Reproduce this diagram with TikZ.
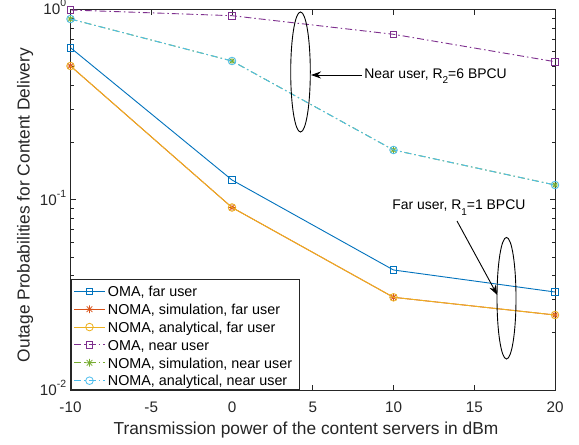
\documentclass[tikz,border=0pt]{standalone}
\usepackage{fontspec}
\setmainfont{Liberation Sans}
\usetikzlibrary{arrows.meta,shapes.geometric}
\definecolor{mblue}{rgb}{0,0.447,0.741}
\definecolor{morange}{rgb}{0.85,0.325,0.098}
\definecolor{myellow}{rgb}{0.929,0.694,0.125}
\definecolor{mpurple}{rgb}{0.494,0.184,0.556}
\definecolor{mgreen}{rgb}{0.466,0.674,0.188}
\definecolor{mcyan}{rgb}{0.301,0.745,0.933}
\definecolor{axgray}{gray}{0.15}
\newcommand{\supx}[1]{\raisebox{8bp}{\fontsize{10.5}{10.5}\selectfont #1}}
\newcommand{\subx}[1]{\raisebox{-5.5bp}{\fontsize{10}{10}\selectfont #1}}
\begin{document}
\begin{tikzpicture}[x=1bp,y=-1bp,line width=0.8bp,
  axisline/.style={draw=axgray,line width=0.8bp},
  ticklab/.style={font=\fontsize{15.3}{15.3}\selectfont,text=axgray,inner sep=0},
  axlab/.style={font=\fontsize{17.4}{17.4}\selectfont,text=axgray,inner sep=0},
  leglab/.style={font=\fontsize{14.4}{14.4}\selectfont,text=black,inner sep=0,anchor=base west},
  annot/.style={font=\fontsize{14}{14}\selectfont,text=black,inner sep=0,anchor=base west},
  ddot/.style={dash pattern=on 7bp off 3bp on 1.5bp off 3bp},
  curve/.style={line width=0.9bp,line join=round},
  ring/.style={ellipse,draw=black,line width=0.9bp,inner sep=0},
  pointer/.style={draw=black,line width=0.9bp,-{Stealth[length=10bp,width=7bp]}},
  msq/.pic={\draw[pic actions,solid,line width=0.8bp] (-3.3,-3.3) rectangle (3.3,3.3);},
  mcirc/.pic={\draw[pic actions,solid,line width=0.8bp] (0,0) circle [radius=3.8];},
  mast/.pic={\draw[pic actions,solid,line width=0.8bp] (0,-3.9)--(0,3.9) (-3.9,0)--(3.9,0) (-2.8,-2.8)--(2.8,2.8) (-2.8,2.8)--(2.8,-2.8);}
]
\useasboundingbox (0,0) rectangle (579,445);
\fill[white] (0,0) rectangle (579,445);

% axes frame
\draw[axisline] (70.5,9.5) rectangle (555,390);
% x ticks
\foreach \i/\lab in {0/-10,1/-5,2/0,3/5,4/10,5/15,6/20}{
  \pgfmathsetmacro\xx{70.5+80.75*\i}
  \draw[axisline] (\xx,390) -- (\xx,384.5);
  \draw[axisline] (\xx,9.5) -- (\xx,15);
  \node[ticklab,anchor=base] (xt\i) at (\xx,412) {\lab};
}
% y major ticks
\foreach \j/\e in {0/0,1/-1,2/-2}{
  \pgfmathsetmacro\yy{9.5+190.25*\j}
  \draw[axisline] (70.5,\yy) -- (76,\yy);
  \draw[axisline] (555,\yy) -- (549.5,\yy);
  \node[ticklab,anchor=base east] (yt\j) at (66.5,\yy+5.4) {10\supx{\e}};
}
% y minor ticks
\foreach \d in {0,1}{
  \foreach \k in {2,...,9}{
    \pgfmathsetmacro\yy{9.5+190.25*(\d+1-log10(\k))}
    \draw[axisline] (70.5,\yy) -- (73.5,\yy);
    \draw[axisline] (555,\yy) -- (552,\yy);
  }
}
% axis labels
\node[axlab,anchor=base] (xlabel) at (306,434) {Transmission power of the content servers in dBm};
\node[axlab,anchor=base,rotate=90] (ylabel) at (29.5,205) {Outage Probabilities for Content Delivery};

% data coordinates
\coordinate (of1) at (70.5,47.7); \coordinate (of2) at (232,180);
\coordinate (of3) at (393.5,270); \coordinate (of4) at (555,292);
\coordinate (nf1) at (70.5,66); \coordinate (nf2) at (232,207.5);
\coordinate (nf3) at (393.5,297.3); \coordinate (nf4) at (555,315);
\coordinate (on1) at (70.5,10); \coordinate (on2) at (232,15.7);
\coordinate (on3) at (393.5,34.3); \coordinate (on4) at (555,61.7);
\coordinate (nn1) at (70.5,19); \coordinate (nn2) at (232,61);
\coordinate (nn3) at (393.5,150); \coordinate (nn4) at (555,185);

% OMA far
\draw[curve,mblue] (of1) -- (of2) -- (of3) -- (of4);
\foreach \p in {of1,of2,of3,of4}{\pic[mblue] at (\p) {msq};}
% NOMA simulation far
\draw[curve,morange] (nf1) -- (nf2) -- (nf3) -- (nf4);
\foreach \p in {nf1,nf2,nf3,nf4}{\pic[morange] at (\p) {mast};}
% NOMA analytical far
\draw[curve,myellow] (nf1) -- (nf2) -- (nf3) -- (nf4);
\foreach \p in {nf1,nf2,nf3,nf4}{\pic[myellow] at (\p) {mcirc};}
% OMA near
\draw[curve,mpurple,ddot] (on1) -- (on2) -- (on3) -- (on4);
\foreach \p in {on1,on2,on3,on4}{\pic[mpurple] at (\p) {msq};}
% NOMA simulation near
\draw[curve,mgreen,ddot] (nn1) -- (nn2) -- (nn3) -- (nn4);
\foreach \p in {nn1,nn2,nn3,nn4}{\pic[mgreen] at (\p) {mast};}
% NOMA analytical near
\draw[curve,mcyan,ddot] (nn1) -- (nn2) -- (nn3) -- (nn4);
\foreach \p in {nn1,nn2,nn3,nn4}{\pic[mcyan] at (\p) {mcirc};}

% annotations
\node[ring,minimum width=19.6bp,minimum height=120bp] (nearring) at (300.5,72) {};
\node[annot] (neartext) at (364,78.5) {Near user, R\subx{2}=6 BPCU};
\coordinate (neartail) at (361.7,75);
\coordinate (neartip) at (311,75);
\draw[pointer] (neartail) -- (neartip);

\node[ring,minimum width=19bp,minimum height=121.6bp] (farring) at (506.5,298.2) {};
\node[annot] (fartext) at (392,210) {Far user, R\subx{1}=1 BPCU};
\coordinate (fartail) at (457,221);
\coordinate (fartip) at (497.3,295);
\draw[pointer] (fartail) -- (fartip);

% legend
\node[draw=axgray,fill=white,line width=0.8bp,minimum width=228bp,minimum height=110bp,
      anchor=south west,inner sep=0] (legend) at (70.5,390) {};
\foreach \i/\col/\mk/\sty/\txt in {
  0/mblue/msq/solid/{OMA, far user},
  1/morange/mast/solid/{NOMA, simulation, far user},
  2/myellow/mcirc/solid/{NOMA, analytical, far user},
  3/mpurple/msq/ddot/{OMA, near user},
  4/mgreen/mast/ddot/{NOMA, simulation, near user},
  5/mcyan/mcirc/ddot/{NOMA, analytical, near user}}{
  \pgfmathsetmacro\ly{291.3+17.88*\i}
  \coordinate (la\i) at (74,\ly);
  \coordinate (lb\i) at (105,\ly);
  \draw[curve,\col,\sty] (la\i) -- (lb\i);
  \pic[\col] at (89.5,\ly) {\mk};
  \node[leglab] (lt\i) at (107.5,\ly+5.2) {\txt};
}
\end{tikzpicture}
\end{document}
